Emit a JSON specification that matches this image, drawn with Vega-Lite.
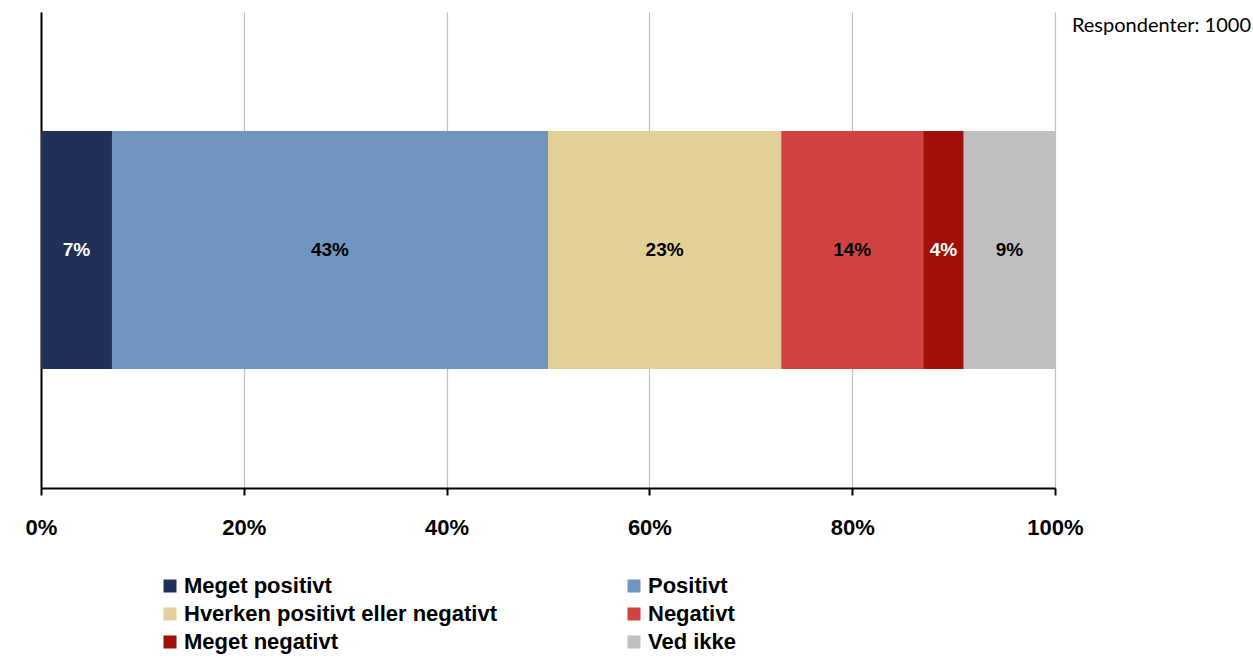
{
  "$schema": "https://vega.github.io/schema/vega-lite/v6.json",
  "autosize": "none",
  "width": 1014,
  "height": 476,
  "padding": {"left": 41, "top": 12, "right": 198, "bottom": 170},
  "background": "white",
  "title": {"text": "Respondenter: 1000", "anchor": "end", "frame": "group", "orient": "top", "dx": 196, "dy": 48, "font": "Lato", "fontSize": 20, "fontWeight": "normal", "color": "#000000", "baseline": "bottom"},
  "data": {"values": [
    {"q": "A", "n": 1, "cat": "Meget positivt", "pct": 0.07},
    {"q": "A", "n": 2, "cat": "Positivt", "pct": 0.43},
    {"q": "A", "n": 3, "cat": "Hverken positivt eller negativt", "pct": 0.23},
    {"q": "A", "n": 4, "cat": "Negativt", "pct": 0.14},
    {"q": "A", "n": 5, "cat": "Meget negativt", "pct": 0.04},
    {"q": "A", "n": 6, "cat": "Ved ikke", "pct": 0.09}
  ]},
  "config": {"view": {"stroke": null}},
  "encoding": {
    "y": {"field": "q", "type": "nominal", "scale": {"paddingInner": 0.5, "paddingOuter": 0.25},
      "axis": {"labels": false, "ticks": false, "title": null, "domainColor": "#000000", "domainWidth": 2}}
  },
  "layer": [
    {
      "mark": {"type": "bar"},
      "encoding": {
        "x": {"field": "pct", "type": "quantitative", "stack": "zero", "scale": {"domain": [0, 1], "nice": false},
          "axis": {"format": ".0%", "values": [0, 0.2, 0.4, 0.6, 0.8, 1], "title": null, "grid": true, "gridColor": "#c0c0c0", "gridWidth": 1.2,
            "domainColor": "#000000", "domainWidth": 2, "tickColor": "#000000", "tickWidth": 2, "tickSize": 7,
            "labelFont": "Liberation Sans", "labelFontWeight": "bold", "labelFontSize": 22, "labelColor": "#000000", "labelPadding": 22, "labelFlush": false}},
        "order": {"field": "n", "type": "quantitative", "sort": "ascending"},
        "color": {"field": "cat", "type": "nominal",
          "sort": ["Meget positivt", "Positivt", "Hverken positivt eller negativt", "Negativt", "Meget negativt", "Ved ikke"],
          "scale": {"domain": ["Meget positivt", "Positivt", "Hverken positivt eller negativt", "Negativt", "Meget negativt", "Ved ikke"],
            "range": ["#1f3158", "#6e96c0", "#e3cf98", "#d14343", "#a11008", "#c0c0c0"]},
          "legend": {"title": null, "orient": "none", "legendX": 118, "legendY": 563, "direction": "horizontal", "columns": 2,
            "symbolType": "square", "symbolSize": 169, "symbolStrokeWidth": 0, "labelFont": "Liberation Sans", "labelFontWeight": "bold",
            "labelFontSize": 22, "labelColor": "#000000", "labelLimit": 500, "columnPadding": 126, "rowPadding": 6, "labelOffset": 3}}
      }
    },
    {
      "mark": {"type": "text", "font": "Liberation Sans", "fontWeight": "bold", "fontSize": 19},
      "encoding": {
        "x": {"field": "pct", "type": "quantitative", "stack": "zero", "bandPosition": 0.5},
        "order": {"field": "n", "type": "quantitative", "sort": "ascending"},
        "detail": {"field": "cat", "type": "nominal"},
        "text": {"field": "pct", "type": "quantitative", "format": ".0%"},
        "color": {"condition": {"test": "datum.cat === 'Meget positivt' || datum.cat === 'Meget negativt'", "value": "#ffffff"}, "value": "#000000"}
      }
    }
  ]
}
